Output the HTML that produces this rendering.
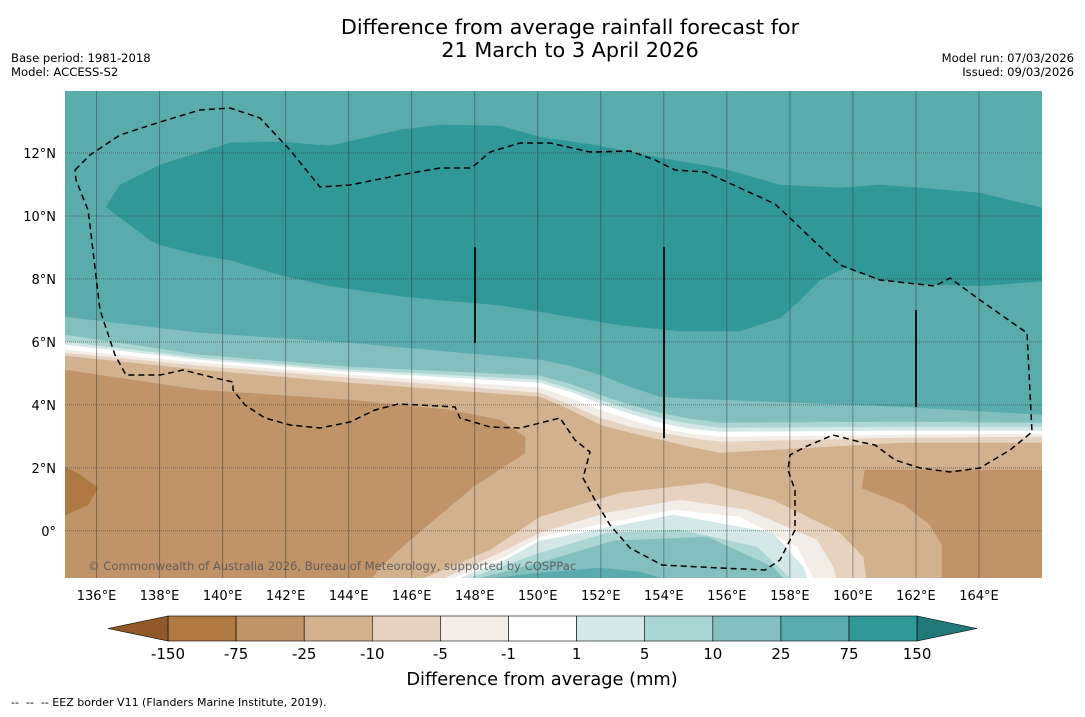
<!DOCTYPE html>
<html><head><meta charset="utf-8"><style>
body{margin:0;background:#fff;width:1085px;height:713px;overflow:hidden;font-family:"DejaVu Sans","Liberation Sans",sans-serif}
svg text{font-family:"DejaVu Sans","Liberation Sans",sans-serif}
</style></head><body>
<svg id="chart" width="1085" height="713" viewBox="0 0 1085 713" xmlns="http://www.w3.org/2000/svg">
<text x="570" y="34" font-size="20.8" text-anchor="middle" fill="#000">Difference from average rainfall forecast for</text>
<text x="570" y="57" font-size="20.8" text-anchor="middle" fill="#000">21 March to 3 April 2026</text>
<text x="11" y="62" font-size="11.6">Base period: 1981-2018</text>
<text x="11" y="76" font-size="11.6">Model: ACCESS-S2</text>
<text x="1074" y="62" font-size="11.6" text-anchor="end">Model run: 07/03/2026</text>
<text x="1074" y="76" font-size="11.6" text-anchor="end">Issued: 09/03/2026</text>
<defs><clipPath id="mapclip"><rect x="65" y="91" width="977" height="487"/></clipPath></defs>
<g id="map" clip-path="url(#mapclip)"></g>
<g id="axes"></g>
<g id="cbar"></g>
<text x="542" y="685" font-size="17.8" text-anchor="middle">Difference from average (mm)</text>
<text x="11" y="706" font-size="11" xml:space="preserve">--  --  -- EEZ border V11 (Flanders Marine Institute, 2019).</text>
</svg>
<script>
const levels=["-150","-75","-25","-10","-5","-1","1","5","10","25","75","150"];
const binColors=["#ae7942","#c09369","#d2b18f","#e6d2bf","#f3ede7","#ffffff","#d4e9e7","#abd6d4","#82bfbe","#5aabab","#319898"];
const lowColor="#8f5a28",highColor="#237878";
const lonTicks=[136,138,140,142,144,146,148,150,152,154,156,158,160,162,164];
const latTicks=[12,10,8,6,4,2,0];
const lonMin=135,lonMax=166,latMin=-1.5,latMax=13.97;
const X0=65,X1=1042,Y0=91,Y1=578;
const px=lon=>X0+(lon-lonMin)/(lonMax-lonMin)*(X1-X0);
const py=lat=>Y0+(latMax-lat)/(latMax-latMin)*(Y1-Y0);
const ilon=x=>lonMin+(x-X0)/(X1-X0)*(lonMax-lonMin);
const ilat=y=>latMax-(y-Y0)/(Y1-Y0)*(latMax-latMin);
const NS="http://www.w3.org/2000/svg";
const map=document.getElementById('map');
function poly(pts,fill,name,closeBottom){
  let p=pts.map(q=>[px(ilon(q[0])),py(ilat(q[1]))]);
  if(closeBottom)p=p.concat([[1042,578],[65,578]]);
  const e=document.createElementNS(NS,'polygon');
  e.setAttribute('points',p.map(q=>q.join(',')).join(' '));
  e.setAttribute('fill',fill);
  e.setAttribute('stroke',fill);
  e.setAttribute('stroke-width','0.5');
  
  
  map.appendChild(e);
}
const bg=document.createElementNS(NS,'rect');
bg.setAttribute('x',65);bg.setAttribute('y',91);bg.setAttribute('width',977);bg.setAttribute('height',487);bg.setAttribute('fill',binColors[9]);


map.appendChild(bg);
const xs=[65,200,350,540,570,600,630,660,690,720,900,1042];
const bandLines=[
 [317,333,343,360,366,375,387,397,399,400,407,415],
 [335,355,367,376,384,395,405,413,419,423,422,423],
 [342,358,370,380,389,400,410,418,424,428,427,427],
 [345,360,372,383,392,404,414,423,429,432,431,431],
 [350,363,375,388,398,410,420,428,434,437,435,434],
 [353,366,378,393,405,418,427,433,438,442,438,437],
 [356,370,383,397,410,425,433,440,447,453,443,443]];
const bandColor=[8,7,6,5,4,3,2];
bandLines.forEach((ys,i)=>poly(xs.map((x,j)=>[x,ys[j]]),binColors[bandColor[i]],'band-'+levels[bandColor[i]],true));
poly([[65,370],[200,390],[350,400],[450,410],[500,420],[525,437],[525,453],[473,487],[410,540],[380,567],[372,578],[65,578]],binColors[1],'region-minus75-minus25',false);
poly([[65,467],[80,475],[98,488],[88,505],[65,515]],binColors[0],'region-minus150-minus75',false);
poly([[865,470],[1042,470],[1042,578],[942,578],[942,545],[930,525],[905,505],[862,488]],binColors[1],'region-east-minus75',false);
poly([[425,578],[490,550],[540,517],[620,493],[707,483],[773,500],[840,533],[863,557],[866,578]],binColors[3],'pocket-minus10',false);
poly([[445,578],[500,553],[540,533],[607,513],[680,500],[747,510],[817,540],[833,567],[836,578]],binColors[4],'pocket-minus5',false);
poly([[455,578],[505,557],[540,537],[673,510],[740,517],[797,547],[813,578]],binColors[5],'pocket-white',false);
poly([[460,578],[505,560],[540,541],[673,515],[773,533],[803,567],[807,578]],binColors[6],'pocket-1-5',false);
poly([[470,578],[540,553],[607,533],[680,530],[757,547],[790,578]],binColors[7],'pocket-5-10',false);
poly([[480,578],[540,563],[613,541],[707,537],[773,567],[783,578]],binColors[8],'pocket-10-25',false);
poly([[495,578],[540,573],[600,568],[640,572],[660,578]],binColors[9],'pocket-25-75',false);
poly([[106,207],[120,185],[160,165],[230,143],[280,142],[330,146],[400,130],[440,125],[500,126],[540,137],[600,146],[660,158],[720,168],[780,185],[840,188],[880,185],[920,188],[980,193],[1042,208],
 [1042,281],[980,286],[920,284],[880,280],[845,268],[820,280],[800,300],[780,318],[740,331],[680,331],[620,325],[560,315],[500,305],[440,300],[400,296],[330,286],[280,275],[230,260],[200,255],[160,245],[150,240]],binColors[10],'region-75-150',false);
lonTicks.forEach(l=>{const e=document.createElementNS(NS,'line');e.setAttribute('x1',px(l));e.setAttribute('x2',px(l));e.setAttribute('y1',91);e.setAttribute('y2',578);e.setAttribute('stroke','#333');e.setAttribute('stroke-opacity','0.45');e.setAttribute('stroke-width','1');


map.appendChild(e);});
latTicks.forEach(l=>{const e=document.createElementNS(NS,'line');e.setAttribute('y1',py(l));e.setAttribute('y2',py(l));e.setAttribute('x1',65);e.setAttribute('x2',1042);e.setAttribute('stroke','#333');e.setAttribute('stroke-opacity','0.55');e.setAttribute('stroke-dasharray','1,1');


map.appendChild(e);});
const eez=[[75,170],[90,155],[120,135],[160,122],[200,110],[230,108],[260,118],[290,150],[320,187],[350,185],[400,175],[440,168],[470,168],[475,165],[490,152],[520,143],[550,143],[590,152],[630,151],[655,160],[675,170],[705,172],[740,188],[775,204],[790,218],[815,242],[840,265],[880,280],[935,286],[950,278],[980,300],[1027,333],[1032,432],[1010,450],[980,468],[950,472],[920,468],[895,460],[875,445],[860,442],[833,435],[805,447],[790,455],[788,470],[795,490],[795,530],[780,560],[765,570],[720,568],[662,565],[630,548],[610,525],[595,500],[583,478],[590,452],[575,440],[560,418],[520,428],[490,427],[460,418],[455,407],[420,405],[398,404],[375,410],[350,422],[320,428],[290,425],[265,418],[245,405],[233,390],[233,382],[215,378],[183,370],[160,375],[126,375],[115,355],[100,310],[97,285],[90,225],[88,210],[76,180],[75,170]];
const ez=document.createElementNS(NS,'polyline');ez.setAttribute('points',eez.map(q=>q.join(',')).join(' '));ez.setAttribute('fill','none');ez.setAttribute('stroke','#000');ez.setAttribute('stroke-width','1.5');ez.setAttribute('stroke-dasharray','6,4');


map.appendChild(ez);
[[475,247,343],[664,247,438],[916,310,407]].forEach(v=>{const e=document.createElementNS(NS,'line');e.setAttribute('x1',v[0]);e.setAttribute('x2',v[0]);e.setAttribute('y1',v[1]);e.setAttribute('y2',v[2]);e.setAttribute('stroke','#111');e.setAttribute('stroke-width','2');


map.appendChild(e);});
const cp=document.createElementNS(NS,'text');cp.setAttribute('x',88);cp.setAttribute('y',570);cp.setAttribute('font-size','11.6');cp.setAttribute('fill','#555');cp.setAttribute('fill-opacity','0.85');cp.textContent='© Commonwealth of Australia 2026, Bureau of Meteorology, supported by COSPPac';


map.appendChild(cp);
const axes=document.getElementById('axes');
lonTicks.forEach(l=>{const t=document.createElementNS(NS,'text');t.setAttribute('x',px(l));t.setAttribute('y',600);t.setAttribute('font-size','13');t.setAttribute('text-anchor','middle');t.textContent=l+'°E';


axes.appendChild(t);});
latTicks.forEach(l=>{const t=document.createElementNS(NS,'text');t.setAttribute('x',56);t.setAttribute('y',py(l)+5);t.setAttribute('font-size','13');t.setAttribute('text-anchor','end');t.textContent=l===0?'0°':l+'°N';


axes.appendChild(t);});
const cb=document.getElementById('cbar');
const cx0=168,cw=68.1,cyT=616,cyB=641;
binColors.forEach((c,i)=>{const r=document.createElementNS(NS,'rect');r.setAttribute('x',cx0+i*cw);r.setAttribute('y',cyT);r.setAttribute('width',cw);r.setAttribute('height',cyB-cyT);r.setAttribute('fill',c);r.setAttribute('stroke','#000');r.setAttribute('stroke-width','0.6');


cb.appendChild(r);});
const endX=cx0+binColors.length*cw;
[[`${cx0},${cyT} 108,${(cyT+cyB)/2} ${cx0},${cyB}`,lowColor,'colorbar-low-extend'],[`${endX},${cyT} 977,${(cyT+cyB)/2} ${endX},${cyB}`,highColor,'colorbar-high-extend']].forEach(a=>{const p=document.createElementNS(NS,'polygon');p.setAttribute('points',a[0]);p.setAttribute('fill',a[1]);p.setAttribute('stroke','#000');p.setAttribute('stroke-width','0.6');


cb.appendChild(p);});
levels.forEach((l,i)=>{const t=document.createElementNS(NS,'text');t.setAttribute('x',cx0+i*cw);t.setAttribute('y',659);t.setAttribute('font-size','15');t.setAttribute('text-anchor','middle');t.textContent=l;


cb.appendChild(t);});
</script>
</body></html>
